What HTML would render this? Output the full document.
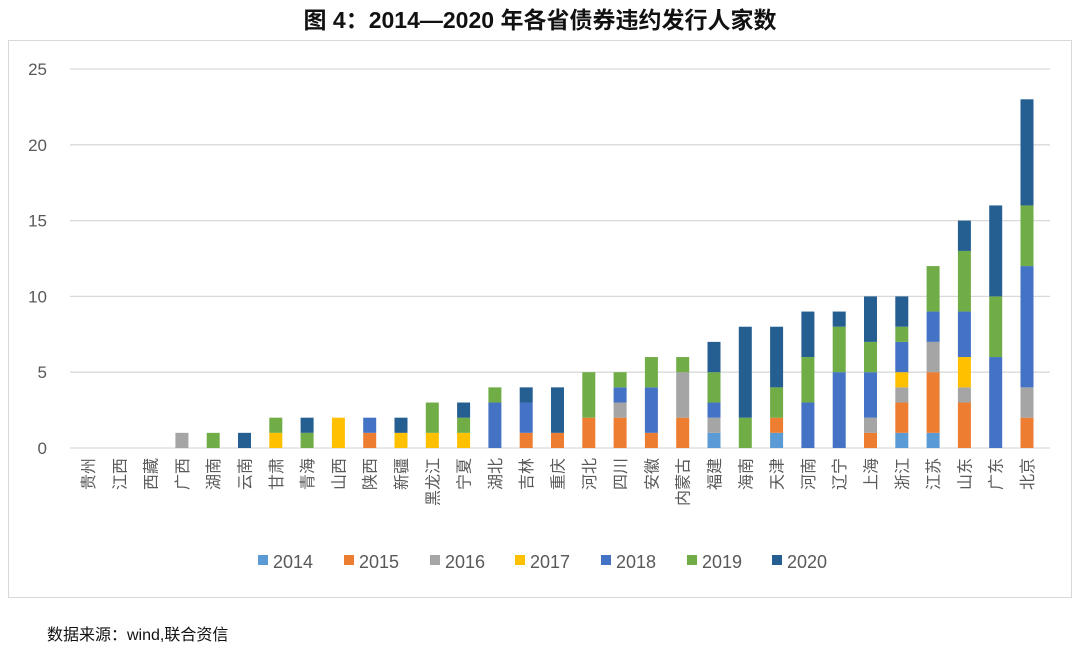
<!DOCTYPE html>
<html><head><meta charset="utf-8"><style>
body{margin:0;background:#fff;}
svg{display:block;font-family:"Liberation Sans","Noto Sans CJK SC",sans-serif;}
</style></head><body>
<svg id="s" width="1080" height="648" viewBox="0 0 1080 648" xmlns="http://www.w3.org/2000/svg">
<rect x="0" y="0" width="1080" height="648" fill="#fff"/>
<text x="540" y="28" text-anchor="middle" font-size="23" font-weight="bold" fill="#111">图 4：2014—2020 年各省债券违约发行人家数</text>
<rect x="8.5" y="40.5" width="1063" height="557" fill="none" stroke="#d9d9d9"/>
<text x="47" y="640" font-size="16" fill="#111">数据来源：wind,联合资信</text>
<g id="g"></g>
</svg>
<script>
var g=document.getElementById('g'),NS='http://www.w3.org/2000/svg';
function el(t,a,txt){var e=document.createElementNS(NS,t);for(var k in a)e.setAttribute(k,a[k]);if(txt!=null)e.textContent=txt;g.appendChild(e);return e;}
var y0=448,u=(448-69)/25;
for(var i=0;i<=5;i++){var y=y0-i*5*u;el('line',{x1:70,x2:1050,y1:y,y2:y,stroke:'#d9d9d9','stroke-width':1.3});
el('text',{x:47,y:y+6,'text-anchor':'end','font-size':17,fill:'#595959'},String(i*5));}
var cols=['#5B9BD5','#ED7D31','#A5A5A5','#FFC000','#4472C4','#70AD47','#255E91'];
var names=['贵州','江西','西藏','广西','湖南','云南','甘肃','青海','山西','陕西','新疆','黑龙江','宁夏','湖北','吉林','重庆','河北','四川','安徽','内蒙古','福建','海南','天津','河南','辽宁','上海','浙江','江苏','山东','广东','北京'];
var d=[[0,0,0,0,0,0,0],[0,0,0,0,0,0,0],[0,0,0,0,0,0,0],[0,0,1,0,0,0,0],[0,0,0,0,0,1,0],[0,0,0,0,0,0,1],
[0,0,0,1,0,1,0],[0,0,0,0,0,1,1],[0,0,0,2,0,0,0],[0,1,0,0,1,0,0],[0,0,0,1,0,0,1],[0,0,0,1,0,2,0],[0,0,0,1,0,1,1],
[0,0,0,0,3,1,0],[0,1,0,0,2,0,1],[0,1,0,0,0,0,3],[0,2,0,0,0,3,0],[0,2,1,0,1,1,0],[0,1,0,0,3,2,0],[0,2,3,0,0,1,0],
[1,0,1,0,1,2,2],[0,0,0,0,0,2,6],[1,1,0,0,0,2,4],[0,0,0,0,3,3,3],[0,0,0,0,5,3,1],[0,1,1,0,3,2,3],[1,2,1,1,2,1,2],
[1,4,2,0,2,3,0],[0,3,1,2,3,4,2],[0,0,0,0,6,4,6],[0,2,2,0,8,4,7]];
var sp=(1027-88)/30;
for(var c=0;c<31;c++){var x=88+c*sp,acc=0;
for(var s=0;s<7;s++){var v=d[c][s];if(!v)continue;var yt=y0-(acc+v)*u;
el('rect',{x:x-6.5,y:yt,width:13,height:v*u,fill:cols[s]});acc+=v;}
var t=el('text',{x:0,y:0,'text-anchor':'end','font-size':16,fill:'#595959',transform:'translate('+(x+6)+',458) rotate(-90)'},names[c]);}
var lx=[258,344,430,515,601,687,772];
for(var s=0;s<7;s++){el('rect',{x:lx[s],y:555,width:10,height:10,fill:cols[s]});
el('text',{x:lx[s]+15,y:568,'font-size':18,fill:'#595959'},String(2014+s));}
</script>
</body></html>
